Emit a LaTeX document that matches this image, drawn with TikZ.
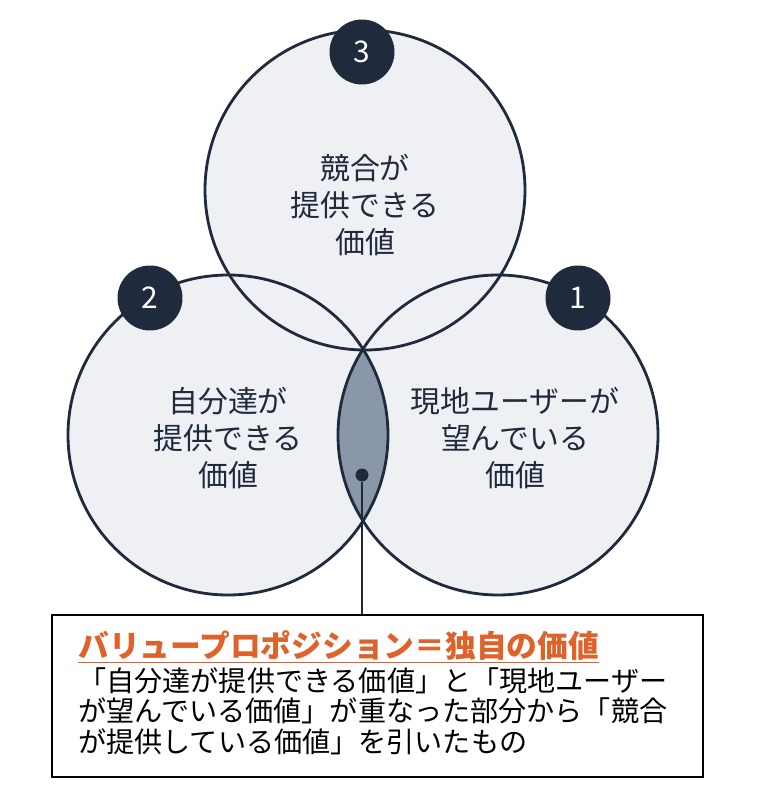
\documentclass[tikz,border=0pt]{standalone}
\usepackage{fontspec}
\setmainfont{Noto Sans CJK JP}
\usepackage{xcolor}
\usetikzlibrary{positioning}
\definecolor{navy}{HTML}{1F2B3C}
\definecolor{pale}{HTML}{EEF0F3}
\definecolor{slate}{HTML}{8A97A9}
\definecolor{accent}{HTML}{E0622B}
\tikzset{
  ring/.style={draw=navy, line width=1.6pt},
  badge/.style={circle, fill=navy, text=white, minimum size=1.3cm, font=\fontsize{17}{20}\selectfont},
  venntext/.style={align=center, text=navy, font=\fontsize{17}{21}\selectfont}
}
\begin{document}
\begin{tikzpicture}[x=0.02cm, y=-0.02cm]
\useasboundingbox[fill=white] (0,0) rectangle (757,800);
% circles
\fill[pale] (365,190) circle (160);
\fill[pale] (228,435) circle (160);
\fill[pale] (498,435) circle (160);
% shared area of 1 and 2 outside 3
\begin{scope}
  \clip (228,435) circle (160);
  \clip (498,435) circle (160);
  \fill[slate] (0,0) rectangle (757,800);
  \fill[pale] (365,190) circle (160);
\end{scope}
\draw[ring] (365,190) circle (160);
\draw[ring] (228,435) circle (160);
\draw[ring] (498,435) circle (160);
% badges
\node[badge] (b3) at (362,52) {3};
\node[badge] (b2) at (150,298) {2};
\node[badge] (b1) at (578,298) {1};
% labels
\node[venntext] (t3) at (365,205) {競合が\\提供できる\\価値};
\node[venntext] (t2) at (228,438) {自分達が\\提供できる\\価値};
\node[venntext] (t1) at (515,438) {現地ユーザーが\\望んでいる\\価値};
% note
\node[draw=black, line width=1.2pt, fill=white, minimum width=651*0.02cm, minimum height=162*0.02cm,
  inner sep=0pt] (note) at (377.5,696) {};
\node[fill=navy, circle, inner sep=0pt, minimum size=0.26cm] (dot) at (362,475) {};
\draw[navy, line width=1.2pt] (dot) -- (dot |- note.north);
\node[anchor=north west, align=left, inner sep=0pt, font=\fontsize{16}{16.5}\selectfont]
  (body) at (78,630) {{\fontsize{17.5}{20}\selectfont\bfseries\color{accent}\underline{バリュープロポジション＝独自の価値}}\\[1pt]
  「自分達が提供できる価値」と「現地ユーザー\\[1pt]
  が望んでいる価値」が重なった部分から「競合\\[1pt]
  が提供している価値」を引いたもの};
\end{tikzpicture}
\end{document}
